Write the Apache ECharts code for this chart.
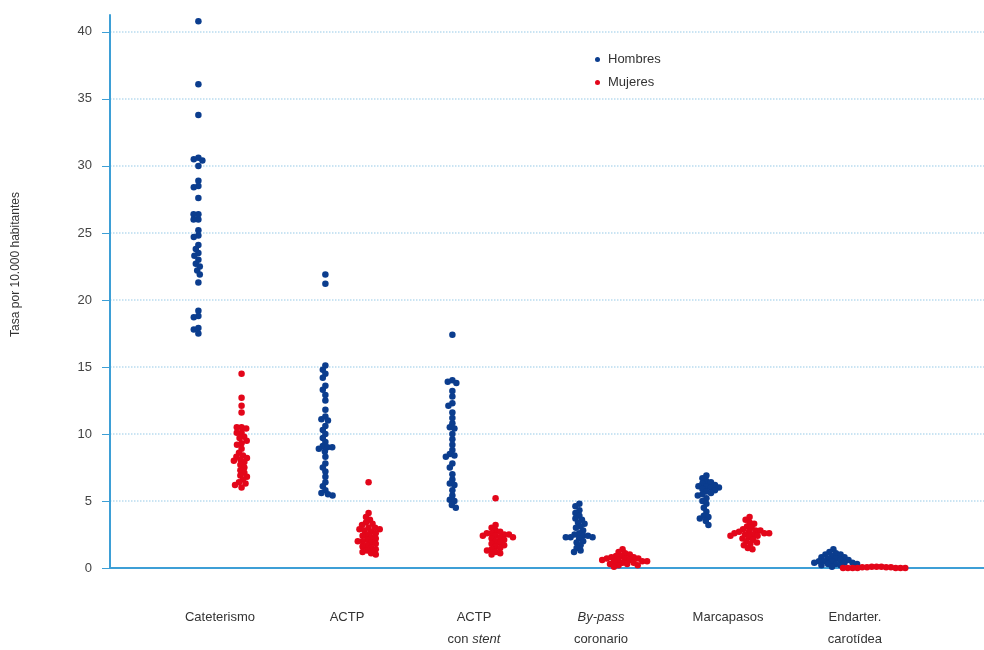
<!DOCTYPE html>
<html>
<head>
<meta charset="utf-8">
<script src="https://cdn.jsdelivr.net/npm/echarts@6/dist/echarts.min.js"></script>
<style>html,body{margin:0;padding:0;background:#fff}#c{width:984px;height:650px}</style>
</head>
<body>
<div id="c"></div>
<script>
// ---- Data ----
const categories = ['Cateterismo', 'ACTP', 'ACTP con stent', 'By-pass coronario', 'Marcapasos', 'Endarter. carotídea'];
const tickLabels = ['{n|Cateterismo}', '{n|ACTP}', '{n|ACTP}\n{n|con }{i|stent}', '{i|By-pass}\n{n|coronario}', '{n|Marcapasos}', '{n|Endarter.}\n{n|carotídea}'];
const yTicks = [0, 5, 10, 15, 20, 25, 30, 35, 40];

const hombresCateterismo = [40.8, 36.1, 33.8, 30.6, 30.5, 30.4, 30.0, 28.9, 28.5, 28.4, 27.6, 26.4, 26.4, 26.0, 26.0, 25.2, 24.8, 24.7, 24.1, 23.8, 23.5, 23.3, 23.0, 22.7, 22.5, 22.2, 21.9, 21.3, 19.2, 18.8, 18.7, 17.9, 17.8, 17.5];
const mujeresCateterismo = [14.5, 12.7, 12.1, 11.6, 10.5, 10.5, 10.4, 10.1, 10.1, 9.8, 9.7, 9.5, 9.3, 9.2, 8.9, 8.6, 8.4, 8.3, 8.2, 8.1, 8.0, 7.9, 7.7, 7.5, 7.3, 7.1, 6.9, 6.8, 6.6, 6.4, 6.3, 6.2, 6.0];
const hombresACTP = [21.9, 21.2, 15.1, 14.8, 14.5, 14.2, 13.6, 13.3, 12.9, 12.5, 11.8, 11.3, 11.1, 11.0, 10.6, 10.3, 10.0, 9.7, 9.4, 9.1, 9.0, 9.0, 8.9, 8.7, 8.3, 7.8, 7.5, 7.2, 6.8, 6.4, 6.1, 5.8, 5.6, 5.5, 5.4];
const mujeresACTP = [6.4, 4.1, 3.8, 3.6, 3.4, 3.3, 3.2, 3.0, 3.0, 2.9, 2.9, 2.8, 2.7, 2.6, 2.5, 2.4, 2.3, 2.2, 2.1, 2.0, 2.0, 1.9, 1.8, 1.7, 1.6, 1.5, 1.4, 1.3, 1.2, 1.1, 1.0];
const hombresStent = [17.4, 14.0, 13.9, 13.8, 13.2, 12.8, 12.3, 12.1, 11.6, 11.2, 10.8, 10.5, 10.4, 10.0, 9.6, 9.2, 8.8, 8.5, 8.4, 8.3, 7.8, 7.5, 7.0, 6.6, 6.3, 6.2, 5.8, 5.4, 5.1, 5.0, 4.7, 4.5];
const mujeresStent = [5.2, 3.2, 3.0, 2.8, 2.7, 2.6, 2.6, 2.5, 2.5, 2.4, 2.4, 2.3, 2.3, 2.2, 2.1, 2.0, 1.9, 1.8, 1.7, 1.6, 1.5, 1.4, 1.3, 1.2, 1.1, 1.0];
const hombresBypass = [4.8, 4.6, 4.3, 4.1, 3.9, 3.7, 3.6, 3.4, 3.3, 3.1, 3.0, 2.8, 2.6, 2.5, 2.4, 2.4, 2.3, 2.3, 2.3, 2.2, 2.0, 1.9, 1.7, 1.5, 1.3, 1.2];
const mujeresBypass = [1.4, 1.2, 1.1, 1.0, 0.9, 0.9, 0.8, 0.8, 0.7, 0.7, 0.7, 0.6, 0.6, 0.6, 0.5, 0.5, 0.5, 0.4, 0.4, 0.3, 0.3, 0.2, 0.2, 0.1];
const hombresMarcapasos = [6.9, 6.7, 6.5, 6.4, 6.3, 6.2, 6.1, 6.1, 6.0, 6.0, 5.9, 5.8, 5.7, 5.6, 5.5, 5.4, 5.2, 5.0, 4.8, 4.5, 4.2, 3.9, 3.8, 3.7, 3.5, 3.2];
const mujeresMarcapasos = [3.8, 3.6, 3.4, 3.3, 3.1, 3.0, 2.9, 2.8, 2.8, 2.7, 2.7, 2.6, 2.6, 2.6, 2.5, 2.5, 2.4, 2.4, 2.3, 2.2, 2.1, 2.0, 1.9, 1.8, 1.7, 1.5, 1.4];
const hombresEndarter = [1.4, 1.2, 1.1, 1.0, 1.0, 0.9, 0.8, 0.8, 0.7, 0.7, 0.6, 0.6, 0.5, 0.5, 0.5, 0.4, 0.4, 0.4, 0.3, 0.3, 0.3, 0.2, 0.2, 0.1];
const mujeresEndarter = [0.1, 0.1, 0.1, 0.05, 0.05, 0.05, 0.05, 0.0, 0.0, 0.0, 0.0, 0.0, 0.0, 0.0];

const hombres = [hombresCateterismo, hombresACTP, hombresStent, hombresBypass, hombresMarcapasos, hombresEndarter];
const mujeres = [mujeresCateterismo, mujeresACTP, mujeresStent, mujeresBypass, mujeresMarcapasos, mujeresEndarter];

// ---- Layout ----
const W = 984, H = 650;
const grid = { left: 110, right: 0, top: 15, bottom: 78 };
const xMin = -0.866, xMax = 6.016, yMax = 41.26;
const pxPerX = (W - grid.left - grid.right) / (xMax - xMin);
const pxPerY = (H - grid.top - grid.bottom) / yMax;
const sideOffset = 0.17;
const dotSize = 6.5;
const gap = 4.8;

function swarm(values, center) {
  const placed = [];
  const out = [];
  const sorted = values.slice().sort((a, b) => b - a);
  sorted.forEach(v => {
    const py = v * pxPerY;
    const intervals = [];
    placed.forEach(p => {
      const dy = Math.abs(p.y - py);
      if (dy < gap) {
        const h = Math.sqrt(gap * gap - dy * dy);
        intervals.push([p.x - h, p.x + h]);
      }
    });
    const cands = [0];
    intervals.forEach(iv => { cands.push(iv[0], iv[1]); });
    cands.sort((a, b) => Math.abs(a) - Math.abs(b));
    let x = 0;
    for (const c of cands) {
      if (intervals.every(iv => c <= iv[0] + 1e-6 || c >= iv[1] - 1e-6)) { x = c; break; }
    }
    placed.push({ x: x, y: py });
    out.push([center + x / pxPerX, v]);
  });
  return out;
}

const hData = [], mData = [];
categories.forEach((c, i) => {
  swarm(hombres[i], i - sideOffset).forEach(p => hData.push(p));
  swarm(mujeres[i], i + sideOffset).forEach(p => mData.push(p));
});

const font = "'Liberation Sans', Arial, sans-serif";
const axisBlue = '#3d9fd6';

const chart = echarts.init(document.getElementById('c'), null, { renderer: 'canvas' });
chart.setOption({
  animation: false,
  backgroundColor: '#ffffff',
  textStyle: { fontFamily: font },
  grid: grid,
  legend: {
    orient: 'vertical', left: 590, top: 48, itemWidth: 5, itemHeight: 5, itemGap: 10,
    icon: 'circle',
    textStyle: { fontFamily: font, fontSize: 13, color: '#333', padding: [0, 0, 0, 3] },
    data: ['Hombres', 'Mujeres']
  },
  xAxis: {
    type: 'value', min: xMin, max: xMax,
    axisLine: { show: true, onZero: false, lineStyle: { color: axisBlue, width: 2 } },
    axisTick: { show: false },
    splitLine: { show: false },
    axisLabel: {
      customValues: categories.map((c, i) => i),
      margin: 38,
      lineHeight: 22,
      formatter: v => tickLabels[Math.round(v)] || '',
      rich: {
        n: { fontFamily: font, fontSize: 13, color: '#333', lineHeight: 22 },
        i: { fontFamily: font, fontSize: 13, color: '#333', fontStyle: 'italic', lineHeight: 22 }
      }
    }
  },
  yAxis: {
    type: 'value', min: 0, max: yMax, interval: 5,
    name: 'Tasa por 10.000 habitantes', nameLocation: 'middle', nameGap: 88, nameRotate: 90,
    nameTextStyle: { fontFamily: font, fontSize: 12, color: '#333', padding: [0, 0, 0, 54] },
    axisLine: { show: true, onZero: false, lineStyle: { color: axisBlue, width: 2 } },
    axisTick: { show: true, inside: false, length: 8, lineStyle: { color: axisBlue, width: 1 }, customValues: yTicks },
    axisLabel: { customValues: yTicks, margin: 18, fontFamily: font, fontSize: 13, color: '#444' },
    splitLine: { show: true, lineStyle: { color: '#b9dcef', type: 'dotted', width: 1.5 } }
  },
  series: [
    { name: 'Hombres', type: 'scatter', symbol: 'circle', symbolSize: dotSize, itemStyle: { color: '#0b3d8e', opacity: 1 }, data: hData },
    { name: 'Mujeres', type: 'scatter', symbol: 'circle', symbolSize: dotSize, itemStyle: { color: '#e3061a', opacity: 1 }, data: mData }
  ]
});
</script>
</body>
</html>
